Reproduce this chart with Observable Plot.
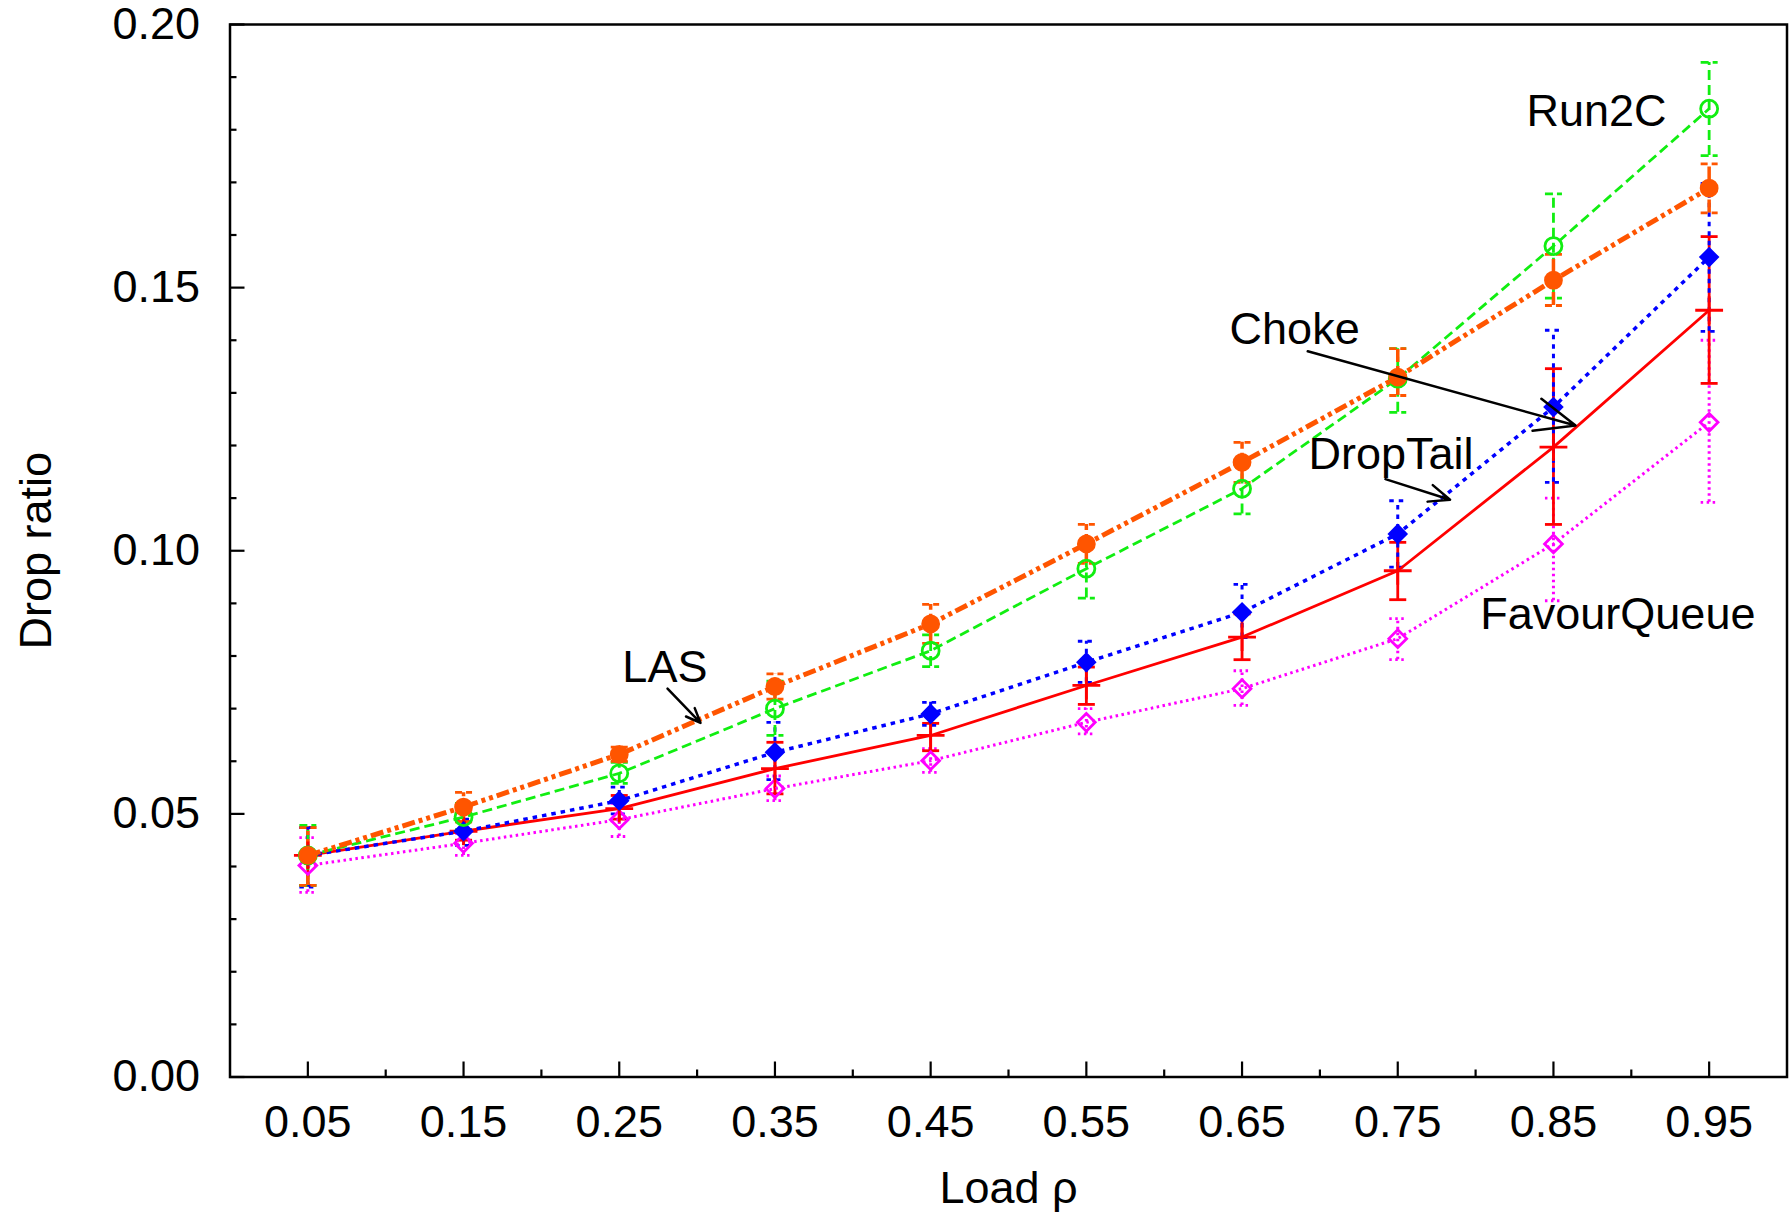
<!DOCTYPE html>
<html><head><meta charset="utf-8">
<script src="https://cdn.jsdelivr.net/npm/d3@7"></script>
<script src="https://cdn.jsdelivr.net/npm/@observablehq/plot@0.6"></script>
<style>html,body{margin:0;padding:0;background:#fff;} svg{display:block;overflow:visible}</style>
</head><body><div id="chart"></div>
<script>
// ---- data ----
const loads = [0.05, 0.15, 0.25, 0.35, 0.45, 0.55, 0.65, 0.75, 0.85, 0.95];

const lasMean  = [0.0421, 0.0513, 0.0613, 0.0742, 0.0861, 0.1013, 0.1168, 0.1330, 0.1514, 0.1689];
const lasHigh  = [0.0474, 0.0541, 0.0627, 0.0766, 0.0898, 0.1050, 0.1206, 0.1384, 0.1563, 0.1735];
const lasLow   = [0.0364, 0.0485, 0.0600, 0.0718, 0.0824, 0.0976, 0.1130, 0.1295, 0.1466, 0.1642];

const run2cMean = [0.0421, 0.0494, 0.0577, 0.0700, 0.0810, 0.0966, 0.1118, 0.1327, 0.1579, 0.1840];
const run2cHigh = [0.0478, 0.0520, 0.0598, 0.0752, 0.0840, 0.1010, 0.1165, 0.1384, 0.1678, 0.1928];
const run2cLow  = [0.0364, 0.0470, 0.0558, 0.0649, 0.0780, 0.0910, 0.1070, 0.1263, 0.1480, 0.1751];

const dropTailMean = [0.0421, 0.0467, 0.0525, 0.0617, 0.0690, 0.0788, 0.0883, 0.1032, 0.1273, 0.1558];
const dropTailHigh = [0.0474, 0.0490, 0.0551, 0.0674, 0.0712, 0.0828, 0.0936, 0.1095, 0.1419, 0.1698];
const dropTailLow  = [0.0361, 0.0440, 0.0500, 0.0565, 0.0668, 0.0750, 0.0835, 0.0969, 0.1130, 0.1417];

const chokeMean = [0.0421, 0.0467, 0.0510, 0.0586, 0.0649, 0.0744, 0.0836, 0.0962, 0.1197, 0.1457];
const chokeHigh = [0.0474, 0.0485, 0.0535, 0.0636, 0.0672, 0.0779, 0.0880, 0.1016, 0.1346, 0.1597];
const chokeLow  = [0.0364, 0.0450, 0.0490, 0.0538, 0.0620, 0.0708, 0.0793, 0.0907, 0.1050, 0.1318];

const favourMean = [0.0402, 0.0444, 0.0489, 0.0548, 0.0601, 0.0674, 0.0738, 0.0833, 0.1013, 0.1244];
const favourHigh = [0.0455, 0.0463, 0.0520, 0.0572, 0.0624, 0.0700, 0.0772, 0.0871, 0.1100, 0.1400];
const favourLow  = [0.0351, 0.0421, 0.0457, 0.0525, 0.0579, 0.0652, 0.0706, 0.0793, 0.0905, 0.1092];

const xTicksMajor = [0.05, 0.15, 0.25, 0.35, 0.45, 0.55, 0.65, 0.75, 0.85, 0.95];
const xTicksMinor = [0.1, 0.2, 0.3, 0.4, 0.5, 0.6, 0.7, 0.8, 0.9];
const yTicksMajor = [0, 0.05, 0.10, 0.15, 0.20];
const yTicksMinor = [0.01,0.02,0.03,0.04,0.06,0.07,0.08,0.09,0.11,0.12,0.13,0.14,0.16,0.17,0.18,0.19];

const xLabel = "Load ρ";
const yLabel = "Drop ratio";

// annotations (data coordinates)
const labelNames = ["Run2C", "Choke", "DropTail", "FavourQueue", "LAS"];
const labelX = [0.8327, 0.642, 0.6927, 0.803, 0.252];
const labelY = [0.1808, 0.1392, 0.1156, 0.0852, 0.0750];
const arrowX1 = [0.6922, 0.7421, 0.281];
const arrowY1 = [0.1379, 0.1136, 0.0738];
const arrowX2 = [0.8642, 0.7836, 0.3022];
const arrowY2 = [0.1238, 0.1097, 0.0673];

// ---- styles ----
const cap = {draw(ctx, size) { const r = Math.sqrt(size / Math.PI); ctx.moveTo(-r, 0); ctx.lineTo(r, 0); }};

const series = [
  {name: "FavourQueue", mean: favourMean, low: favourLow, high: favourHigh, color: "#ff00ff", width: 3, barWidth: 3, dash: "2.5,3.5", capDash: "2.5,3.5", symbol: "diamond2", r: 8, fill: "none"},
  {name: "Choke", mean: chokeMean, low: chokeLow, high: chokeHigh, color: "#ff0000", width: 2.8, barWidth: 2.8, dash: null, capDash: null, symbol: "plus", r: 9, fill: "none"},
  {name: "DropTail", mean: dropTailMean, low: dropTailLow, high: dropTailHigh, color: "#0000ff", width: 3.5, barWidth: 3, dash: "4.5,5", capDash: "4.5,5", symbol: "diamond2", r: 7.5, fill: "#0000ff"},
  {name: "Run2C", mean: run2cMean, low: run2cLow, high: run2cHigh, color: "#11ee11", width: 2.8, barWidth: 2.8, dash: "10,5", capDash: "8,4", symbol: "circle", r: 8.5, fill: "none"},
  {name: "LAS", mean: lasMean, low: lasLow, high: lasHigh, color: "#ff5500", width: 5, barWidth: 3.5, dash: "13,4,4,4,4,4", capDash: "7,4", symbol: "circle", r: 8, fill: "#ff5500"}
];

const marks = [];
for (const s of series) {
  const rows = loads.map((x, i) => ({x, y: s.mean[i], lo: s.low[i], hi: s.high[i]}));
  marks.push(Plot.ruleX(rows, {x: "x", y1: "lo", y2: "hi", stroke: s.color, strokeWidth: s.barWidth, strokeDasharray: s.dash, strokeLinecap: "butt"}));
  marks.push(Plot.dot(rows, {x: "x", y: "lo", symbol: cap, r: 8.5, fill: "none", stroke: s.color, strokeWidth: 2.8, strokeDasharray: s.capDash, strokeLinecap: "butt"}));
  marks.push(Plot.dot(rows, {x: "x", y: "hi", symbol: cap, r: 8.5, fill: "none", stroke: s.color, strokeWidth: 2.8, strokeDasharray: s.capDash, strokeLinecap: "butt"}));
}
for (const s of series) {
  const rows = loads.map((x, i) => ({x, y: s.mean[i]}));
  marks.push(Plot.line(rows, {x: "x", y: "y", stroke: s.color, strokeWidth: s.width, strokeDasharray: s.dash, strokeLinecap: "butt", strokeLinejoin: "miter"}));
  marks.push(Plot.dot(rows, {x: "x", y: "y", symbol: s.symbol, r: s.r, fill: s.fill, stroke: s.color, strokeWidth: 2.8}));
}

const labels = labelNames.map((t, i) => ({t, x: labelX[i], y: labelY[i]}));
const arrows = arrowX1.map((x1, i) => ({x1, y1: arrowY1[i], x2: arrowX2[i], y2: arrowY2[i]}));

const noText = () => "";
const chart = Plot.plot({
  width: 1790, height: 1214,
  marginLeft: 229.5, marginRight: 3.5, marginTop: 24, marginBottom: 137.5,
  x: {domain: [0, 1], label: null},
  y: {domain: [0, 0.2], label: null},
  style: {fontFamily: "'Liberation Sans', Arial, Helvetica, sans-serif", fontSize: "45px", background: "#fff", color: "#000", overflow: "visible"},
  marks: [
    Plot.axisY(yTicksMajor, {tickSize: 0, tickPadding: 30, tickFormat: d => d.toFixed(2), label: null, fontSize: 45}),
    Plot.axisY(yTicksMajor, {tickSize: -15, tickFormat: noText, label: null, strokeWidth: 2.2}),
    Plot.axisY(yTicksMinor, {tickSize: -7, tickFormat: noText, label: null, strokeWidth: 2.2}),
    Plot.axisX(xTicksMajor, {tickSize: 0, tickPadding: 28, tickFormat: d => d.toFixed(2), label: null, fontSize: 45}),
    Plot.axisX(xTicksMajor, {tickSize: -15, tickFormat: noText, label: null, strokeWidth: 2.2}),
    Plot.axisX(xTicksMinor, {tickSize: -7, tickFormat: noText, label: null, strokeWidth: 2.2}),
    ...marks,
    Plot.arrow(arrows, {x1: "x1", y1: "y1", x2: "x2", y2: "y2", stroke: "#000", strokeWidth: 2.5, headLength: 26, headAngle: 45}),
    Plot.text(labels, {x: "x", y: "y", text: "t", textAnchor: "start", lineAnchor: "bottom", fontSize: 45, fill: "#000"}),
    Plot.text([xLabel], {frameAnchor: "bottom", dy: 125.5, textAnchor: "middle", lineAnchor: "bottom", fontSize: 45, fill: "#000"}),
    Plot.text([yLabel], {frameAnchor: "left", dx: -193, rotate: -90, textAnchor: "middle", lineAnchor: "middle", fontSize: 45, fill: "#000"}),
    Plot.frame({stroke: "#000", strokeWidth: 2.5})
  ]
});
document.getElementById("chart").appendChild(chart);
</script></body></html>
